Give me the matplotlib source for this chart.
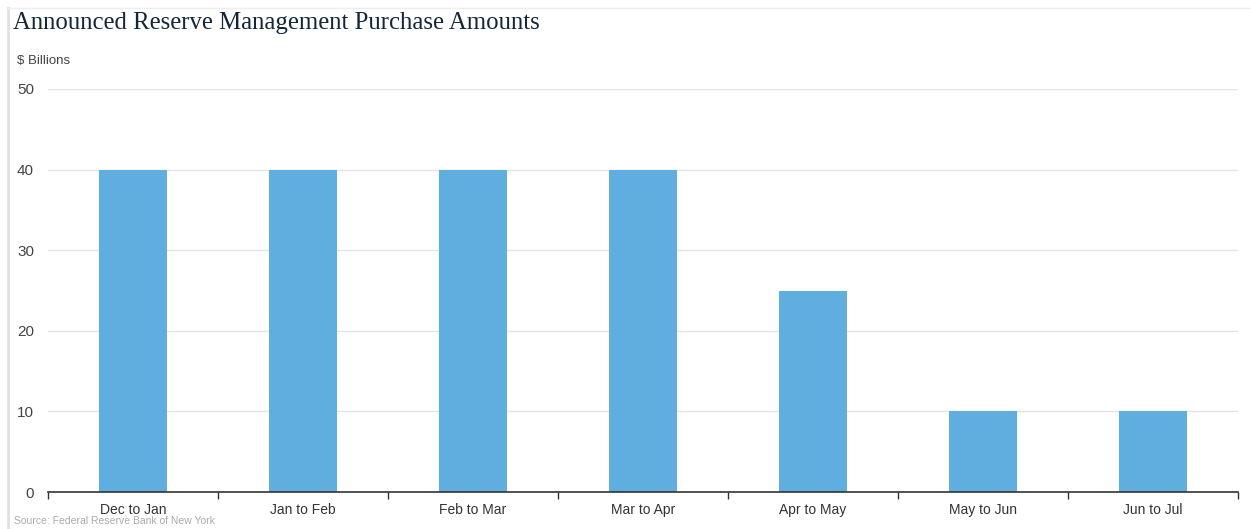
import numpy as np
import matplotlib.pyplot as plt

# datos
periods = ['Dec to Jan', 'Jan to Feb', 'Feb to Mar', 'Mar to Apr', 'Apr to May', 'May to Jun', 'Jun to Jul']
amounts = [40, 40, 40, 40, 25, 10, 10]
yticks = [0, 10, 20, 30, 40, 50]

plt.rcParams['font.family'] = ['Liberation Sans', 'DejaVu Sans']

W, H = 1251, 529
fig = plt.figure(figsize=(W / 100, H / 100), dpi=100)
fig.patch.set_facecolor('white')

# area del grafico en pixeles
x0, x1 = 48, 1238
y0, y1 = 492, 89
ax = fig.add_axes([x0 / W, 1 - y0 / H, (x1 - x0) / W, (y0 - y1) / H])

x = np.arange(len(periods))
ax.bar(x, amounts, width=0.4, color='#60aee0', zorder=2)
ax.set_xlim(-0.5, len(periods) - 0.5)
ax.set_ylim(0, 50)
ax.set_yticks(yticks)
ax.set_yticklabels([str(v) for v in yticks], fontsize=11, color='#444444')
ax.yaxis.grid(True, color='#e4e4e4', linewidth=1, zorder=0)
ax.tick_params(axis='y', length=0, pad=10)

# marcas del eje x en los limites de cada categoria
ax.set_xticks(np.arange(len(periods) + 1) - 0.5)
ax.set_xticklabels([])
ax.set_xticks(x, minor=True)
ax.set_xticklabels(periods, minor=True, fontsize=10, color='#333333')
ax.tick_params(axis='x', which='major', length=5, width=1, color='#333333', direction='out')
ax.tick_params(axis='x', which='minor', length=0, pad=8)

for s in ['top', 'right', 'left']:
    ax.spines[s].set_visible(False)
ax.spines['bottom'].set_color('#333333')
ax.spines['bottom'].set_linewidth(1.2)
ax.spines['bottom'].set_zorder(3)

# titulo y unidades
fig.text(13 / W, 1 - 23 / H, 'Announced Reserve Management Purchase Amounts',
         fontsize=17.8, family='Liberation Serif', color='#14263a', va='center')
fig.text(17 / W, 1 - 61 / H, '$ Billions', fontsize=9.5, color='#444444', va='center')
fig.text(14 / W, 1 - 521 / H, 'Source: Federal Reserve Bank of New York', fontsize=7.5,
         color='#aaaaaa', va='center')

# bordes grises de la pagina
fig.add_artist(plt.Line2D([8 / W, 8 / W], [0, 1 - 8 / H], color='#e0e0e0', linewidth=2))
fig.add_artist(plt.Line2D([8 / W, 1], [1 - 8 / H, 1 - 8 / H], color='#eeeeee', linewidth=1))

fig.savefig('out.png', dpi=100)
